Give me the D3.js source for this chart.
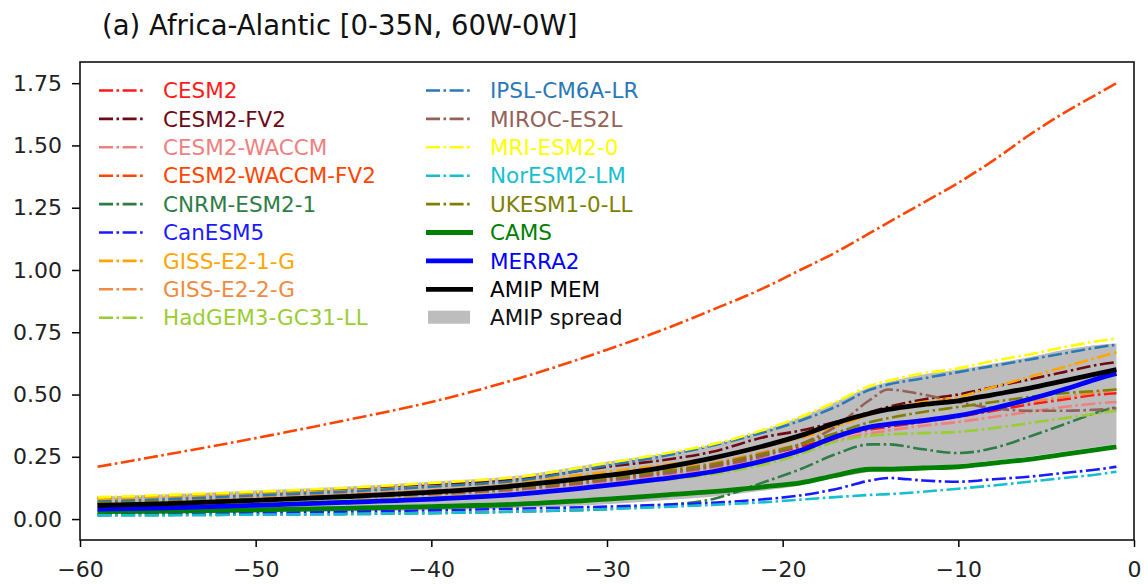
<!DOCTYPE html>
<html><head><meta charset="utf-8">
<script src="https://cdn.jsdelivr.net/npm/d3@7"></script>
<style>body{margin:0;background:#fff} text{font-family:"DejaVu Sans",sans-serif}</style>
</head><body><svg id="c" width="1148" height="584"></svg>
<script>
// x positions (longitude / lag)
const xs = [-59,-55,-50,-45,-40,-35,-30,-27,-24,-21,-19,-17,-15,-14,-12,-10,-8,-6,-4,-2,-1];

const modelNames = ["CESM2","CESM2-FV2","CESM2-WACCM","CESM2-WACCM-FV2","CNRM-ESM2-1","CanESM5","GISS-E2-1-G","GISS-E2-2-G","HadGEM3-GC31-LL","IPSL-CM6A-LR","MIROC-ES2L","MRI-ESM2-0","NorESM2-LM","UKESM1-0-LL"];
const modelColors = ["#ff1a1a","#6e0a16","#f08080","#ff4500","#2e7d46","#1a1aff","#ffa500","#f08a40","#9acd32","#2a78b8","#946158","#ffff00","#17becf","#808000"];

const CESM2        = [.060,.066,.077,.090,.105,.125,.160,.185,.215,.260,.290,.330,.360,.370,.390,.410,.435,.460,.480,.500,.505];
const CESM2_FV2    = [.085,.093,.105,.120,.140,.160,.210,.235,.270,.330,.355,.390,.430,.450,.480,.500,.530,.560,.590,.620,.630];
const CESM2_WACCM  = [.055,.060,.070,.082,.097,.117,.150,.175,.205,.245,.275,.315,.345,.355,.375,.390,.410,.430,.450,.465,.470];
const CESM2_WACCM_FV2 = [.210,.260,.325,.395,.470,.565,.680,.755,.840,.930,1.000,1.070,1.150,1.190,1.270,1.350,1.440,1.540,1.630,1.710,1.750];
const CNRM         = [.015,.016,.018,.020,.024,.030,.040,.055,.080,.150,.200,.260,.300,.300,.280,.265,.285,.330,.380,.430,.450];
const CanESM5      = [.020,.022,.025,.030,.035,.042,.050,.057,.065,.080,.095,.120,.155,.165,.155,.150,.160,.170,.185,.200,.210];
const GISS_E2_1_G  = [.080,.088,.100,.113,.130,.150,.190,.215,.245,.290,.325,.370,.420,.440,.470,.490,.530,.570,.610,.650,.670];
const GISS_E2_2_G  = [.070,.076,.087,.100,.115,.135,.170,.195,.225,.270,.300,.340,.370,.380,.400,.420,.445,.470,.490,.510,.520];
const HadGEM3      = [.050,.055,.064,.075,.088,.105,.135,.155,.180,.220,.260,.310,.335,.340,.345,.350,.365,.385,.405,.425,.435];
const IPSL         = [.070,.080,.095,.110,.130,.155,.215,.250,.295,.350,.395,.450,.520,.540,.565,.590,.615,.640,.665,.690,.700];
const MIROC        = [.060,.066,.076,.088,.100,.120,.155,.180,.210,.255,.300,.370,.480,.520,.500,.470,.445,.435,.435,.440,.445];
const MRI          = [.088,.097,.110,.125,.145,.170,.225,.260,.300,.360,.410,.470,.535,.555,.585,.605,.635,.660,.690,.715,.725];
const NorESM2      = [.015,.016,.018,.020,.024,.030,.040,.048,.057,.068,.078,.088,.097,.100,.110,.122,.135,.150,.165,.180,.190];
const UKESM1       = [.065,.070,.080,.092,.107,.127,.165,.190,.220,.265,.300,.345,.390,.405,.430,.450,.470,.490,.505,.515,.520];

const CAMS    = [.030,.032,.037,.043,.050,.060,.080,.095,.110,.130,.145,.175,.200,.200,.205,.210,.225,.240,.260,.280,.290];
const MERRA2  = [.040,.045,.055,.067,.080,.100,.135,.160,.190,.235,.275,.330,.370,.380,.395,.415,.445,.480,.520,.565,.585];
const AMIP_MEM= [.055,.062,.075,.090,.108,.135,.175,.205,.245,.295,.335,.385,.425,.440,.460,.475,.500,.525,.555,.585,.600];
const spreadLow  = [.020,.022,.026,.030,.035,.045,.060,.075,.090,.115,.135,.165,.190,.200,.210,.220,.235,.250,.270,.290,.300];
const spreadHigh = [.090,.100,.115,.130,.150,.175,.230,.260,.300,.360,.410,.470,.530,.550,.580,.600,.625,.650,.680,.700,.705];

const models = [CESM2,CESM2_FV2,CESM2_WACCM,CESM2_WACCM_FV2,CNRM,CanESM5,GISS_E2_1_G,GISS_E2_2_G,HadGEM3,IPSL,MIROC,MRI,NorESM2,UKESM1];
const obsNames = ["CAMS","MERRA2","AMIP MEM"];
const obsColors = ["#008000","#0000ff","#000000"];
const obs = [CAMS, MERRA2, AMIP_MEM];

const xTicks = [-60,-50,-40,-30,-20,-10,0];
const yTicks = [0,0.25,0.5,0.75,1.0,1.25,1.5,1.75];
const title = "(a) Africa-Alantic [0-35N, 60W-0W]";

const svg = d3.select("#c");
const L=80, R=1134, T=62, B=540;
const x = d3.scaleLinear().domain([-60,0]).range([L,R]);
const y = d3.scaleLinear().domain([-0.084,1.835]).range([B,T]);

svg.append("defs").append("clipPath").attr("id","clip").append("rect")
  .attr("x",L).attr("y",T).attr("width",R-L).attr("height",B-T);
const g = svg.append("g").attr("clip-path","url(#clip)");

const area = d3.area().x((d,i)=>x(xs[i])).y0((d,i)=>y(spreadLow[i])).y1((d,i)=>y(spreadHigh[i])).curve(d3.curveMonotoneX);
g.append("path").attr("d",area(xs)).attr("fill","#bdbdbd");

const line = d3.line().x((d,i)=>x(xs[i])).y(d=>y(d)).curve(d3.curveMonotoneX);
models.forEach((m,k)=>{
  g.append("path").attr("d",line(m)).attr("fill","none").attr("stroke",modelColors[k])
   .attr("stroke-width",2.6).attr("stroke-dasharray","14,3.5,2.6,3.5");
});
obs.forEach((m,k)=>{
  g.append("path").attr("d",line(m)).attr("fill","none").attr("stroke",obsColors[k])
   .attr("stroke-width",4.8).attr("stroke-linejoin","round");
});

// axes
const fmtX = d => d<0 ? "\u2212"+Math.abs(d) : String(d);
const xa = svg.append("g").attr("transform",`translate(0,${B})`)
  .call(d3.axisBottom(x).tickValues(xTicks).tickFormat(fmtX).tickSize(7).tickPadding(14));
const ya = svg.append("g").attr("transform",`translate(${L},0)`)
  .call(d3.axisLeft(y).tickValues(yTicks).tickFormat(d3.format(".2f")).tickSize(8).tickPadding(10));
[xa,ya].forEach(a=>{
  a.select(".domain").remove();
  a.selectAll(".tick line").attr("stroke","#000").attr("stroke-width",1.5);
  a.selectAll("text").attr("font-size",22).attr("fill","#222").attr("font-family","DejaVu Sans");
});
svg.append("rect").attr("x",L).attr("y",T).attr("width",R-L).attr("height",B-T)
  .attr("fill","none").attr("stroke","#111").attr("stroke-width",1.6);

svg.append("text").attr("x",102).attr("y",35).attr("font-size",27.5).attr("fill","#111").text(title);

// legend
const rowY = i => 90.5 + i*28.4;
const leg = svg.append("g");
const entries = [];
modelNames.forEach((n,k)=>entries.push({name:n,color:modelColors[k],type:"dash"}));
obsNames.forEach((n,k)=>entries.push({name:n,color:obsColors[k],type:"solid"}));
entries.push({name:"AMIP spread",color:"#bdbdbd",type:"patch"});
entries.forEach((e,i)=>{
  const col = i<9?0:1, row = i<9?i:i-9;
  const x0 = col===0?99:426, yy=rowY(row);
  if(e.type==="patch"){
    leg.append("rect").attr("x",x0+2).attr("y",yy-7).attr("width",42).attr("height",13).attr("fill",e.color);
  } else {
    leg.append("line").attr("x1",x0).attr("x2",x0+47).attr("y1",yy).attr("y2",yy)
      .attr("stroke",e.color).attr("stroke-width",e.type==="solid"?4.8:2.6)
      .attr("stroke-dasharray",e.type==="dash"?"14,3.5,2.6,3.5":null);
  }
  leg.append("text").attr("x",x0+64).attr("y",yy).attr("dy","0.36em").attr("font-size",21.5)
    .attr("fill",e.type==="patch"?"#111":e.color).text(e.name);
});
</script></body></html>
